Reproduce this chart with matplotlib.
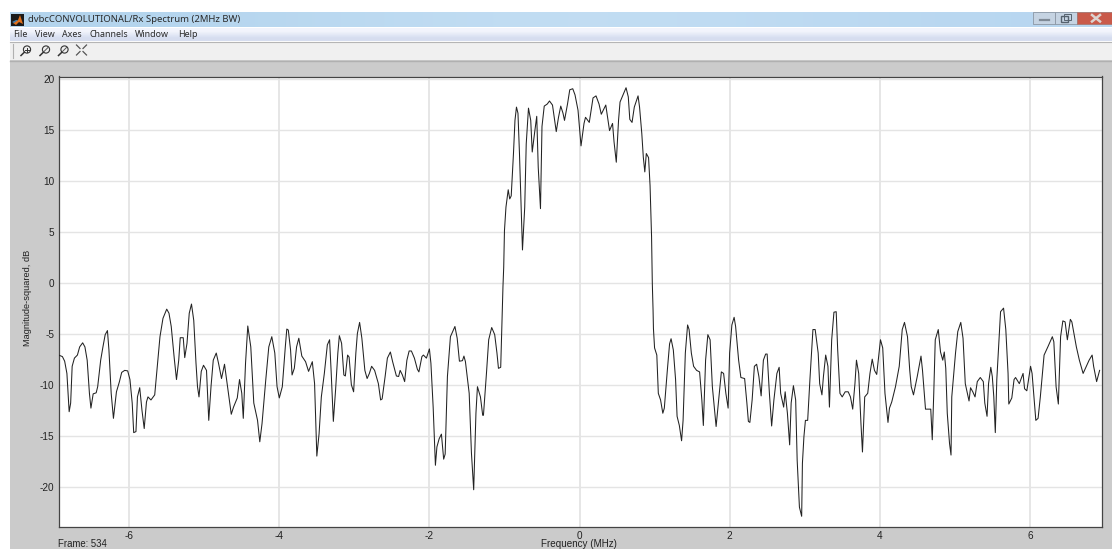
import numpy as np
import matplotlib
matplotlib.use("Agg")
import matplotlib.pyplot as plt
from matplotlib.patches import Rectangle, Circle, Polygon

plt.rcParams['font.family'] = ['Liberation Sans', 'DejaVu Sans']

title_text = "dvbcCONVOLUTIONAL/Rx Spectrum (2MHz BW)"
menu_items = ["File", "View", "Axes", "Channels", "Window", "Help"]
x_label = "Frequency (MHz)"
y_label = "Magnitude-squared, dB"
frame_text = "Frame: 534"
x_ticks = [-6, -4, -2, 0, 2, 4, 6]
y_ticks = [20, 15, 10, 5, 0, -5, -10, -15, -20]

freq_left = [-6.94,-6.89,-6.86,-6.83,-6.80,-6.78,-6.76,-6.73,-6.69,-6.66,-6.62,-6.59,-6.56,-6.53,-6.51,-6.48,-6.44,-6.42,-6.38,-6.35,-6.32,-6.29,-6.27,-6.24,-6.21,-6.17,-6.13,-6.10,-6.06,-6.02,-5.99,-5.96,-5.94,-5.91,-5.89,-5.86,-5.83,-5.80,-5.77,-5.75,-5.71,-5.66,-5.63,-5.59,-5.55,-5.50,-5.47,-5.44,-5.40,-5.37,-5.34,-5.32,-5.28,-5.26,-5.23,-5.20,-5.17,-5.14,-5.11,-5.09,-5.07,-5.04,-5.01,-4.97,-4.94,-4.91,-4.88,-4.84,-4.81,-4.77,-4.73,-4.69,-4.64,-4.61,-4.56,-4.53,-4.50,-4.48,-4.45,-4.42,-4.38,-4.34,-4.29,-4.26,-4.23,-4.18,-4.14,-4.10,-4.06,-4.03,-4.00]
db_left = [-7.1,-7.25,-7.7,-8.9,-12.65,-11.8,-8.2,-7.4,-7.1,-6.3,-5.9,-6.3,-7.6,-10.85,-12.3,-10.9,-10.8,-10.2,-7.6,-6.3,-5.1,-4.7,-6.6,-10.85,-13.3,-10.7,-9.7,-8.8,-8.6,-8.65,-9.5,-11.8,-14.7,-14.6,-11.2,-10.3,-12.5,-14.3,-11.7,-11.2,-11.5,-11.0,-8.6,-5.3,-3.5,-2.6,-3.0,-4.3,-7.4,-9.5,-7.6,-5.4,-5.4,-7.35,-5.95,-3.0,-2.1,-3.7,-7.9,-10.2,-11.2,-8.7,-8.1,-8.6,-13.5,-10.2,-7.6,-6.9,-7.9,-9.4,-8.0,-10.2,-12.9,-12.2,-11.3,-9.5,-10.85,-13.3,-7.9,-4.25,-6.3,-11.8,-13.5,-15.6,-13.8,-9.5,-6.3,-5.3,-6.9,-10.2,-11.3]

freq_midleft = [-3.96,-3.92,-3.90,-3.88,-3.85,-3.83,-3.80,-3.77,-3.74,-3.70,-3.65,-3.61,-3.56,-3.53,-3.50,-3.47,-3.44,-3.40,-3.36,-3.33,-3.31,-3.28,-3.25,-3.22,-3.20,-3.17,-3.14,-3.12,-3.09,-3.07,-3.04,-3.01,-2.98,-2.96,-2.93,-2.90,-2.86,-2.83,-2.80,-2.77,-2.73,-2.68,-2.65,-2.63,-2.59,-2.56,-2.52,-2.49,-2.44,-2.41,-2.39,-2.36,-2.33,-2.30,-2.27,-2.24,-2.20,-2.16,-2.14,-2.10,-2.08,-2.04,-2.00,-1.98,-1.95,-1.92,-1.90,-1.87,-1.84,-1.81,-1.79,-1.76,-1.72,-1.68,-1.66,-1.63,-1.60,-1.56,-1.54,-1.52,-1.47,-1.44,-1.41,-1.38,-1.36,-1.32,-1.29,-1.28,-1.24,-1.21,-1.17,-1.13,-1.10,-1.08,-1.05,-1.03]
db_midleft = [-10.2,-6.3,-4.55,-4.65,-6.6,-9.05,-8.4,-6.3,-5.45,-7.2,-7.75,-8.7,-7.75,-9.9,-17.0,-14.8,-11.2,-8.9,-6.1,-5.6,-8.6,-13.6,-10.5,-6.9,-5.2,-5.95,-9.05,-9.15,-7.1,-7.3,-10.0,-10.7,-6.9,-5.0,-3.9,-5.45,-8.6,-9.4,-8.9,-8.2,-8.6,-9.9,-11.5,-11.4,-9.2,-7.4,-6.8,-7.75,-9.15,-9.2,-8.6,-9.05,-9.7,-7.6,-6.7,-6.7,-7.4,-8.5,-8.75,-7.25,-7.1,-7.4,-6.5,-7.9,-12.2,-17.9,-16.1,-15.3,-14.85,-17.3,-16.8,-9.2,-5.3,-4.65,-4.3,-5.45,-7.7,-7.65,-7.2,-7.75,-10.85,-16.7,-20.3,-12.8,-10.2,-11.2,-13.0,-13.0,-8.9,-5.6,-4.4,-5.1,-6.9,-8.4,-8.3,-3.0]

freq_band = [-1.02,-1.01,-1.00,-0.98,-0.95,-0.93,-0.91,-0.88,-0.86,-0.84,-0.82,-0.80,-0.77,-0.76,-0.73,-0.71,-0.68,-0.65,-0.63,-0.60,-0.57,-0.55,-0.52,-0.50,-0.47,-0.43,-0.40,-0.36,-0.31,-0.28,-0.25,-0.22,-0.20,-0.16,-0.13,-0.09,-0.06,-0.02,0.02,0.06,0.08,0.13,0.18,0.22,0.26,0.29,0.35,0.38,0.40,0.44,0.46,0.49,0.52,0.54,0.58,0.62,0.65,0.67,0.70,0.73,0.78,0.80,0.83,0.85,0.87,0.89,0.92,0.94,0.96,0.97,0.98,0.985]
db_band = [-0.4,1.5,5.1,7.4,9.1,8.2,8.5,12.65,15.9,17.2,16.6,12.65,5.5,3.2,7.4,13.6,17.1,15.9,12.8,14.6,16.3,11.3,7.25,15.3,17.3,17.5,17.8,17.4,14.8,16.2,17.3,16.6,15.9,17.5,18.9,19.0,18.4,16.9,13.4,15.6,16.2,15.7,18.1,18.3,17.5,16.5,17.4,15.9,14.9,15.6,13.8,11.8,15.9,17.7,18.4,19.1,18.2,16.0,15.7,17.2,18.3,17.2,14.6,12.3,10.85,12.65,12.25,9.5,4.5,-0.1,-2.7,-4.5]

freq_midright = [1.00,1.03,1.05,1.08,1.11,1.13,1.17,1.20,1.22,1.25,1.28,1.30,1.33,1.36,1.38,1.41,1.44,1.46,1.49,1.52,1.56,1.60,1.63,1.65,1.68,1.71,1.74,1.77,1.82,1.85,1.89,1.92,1.95,1.98,2.00,2.03,2.06,2.08,2.12,2.15,2.20,2.23,2.25,2.27,2.30,2.33,2.36,2.39,2.42,2.45,2.48,2.50,2.53,2.56,2.59,2.63,2.66,2.68,2.72,2.74,2.77,2.80,2.82,2.85,2.88,2.90,2.93,2.96,2.97,2.99,3.01,3.04,3.07,3.11,3.14,3.18,3.20,3.23,3.25,3.28,3.31,3.33,3.36,3.39,3.42,3.44,3.47,3.50,3.54,3.58,3.61,3.64,3.67,3.69,3.72,3.75,3.77,3.80,3.84,3.87,3.90,3.93,3.96,3.99,4.01,4.04,4.07,4.11,4.13]
db_midright = [-6.4,-7.1,-10.85,-11.5,-12.8,-12.3,-8.6,-6.0,-5.5,-6.6,-9.5,-13.1,-14.0,-15.5,-13.5,-6.9,-4.15,-4.6,-6.9,-8.2,-8.6,-8.75,-11.5,-14.0,-7.6,-5.1,-5.6,-10.2,-14.1,-11.8,-8.75,-8.9,-10.85,-12.3,-6.9,-4.15,-3.4,-4.3,-7.6,-9.3,-9.4,-11.8,-13.6,-13.7,-11.5,-8.2,-8.0,-9.2,-11.1,-7.6,-7.0,-7.0,-10.85,-14.05,-11.5,-8.9,-8.3,-10.85,-12.2,-10.7,-12.8,-15.9,-11.8,-10.1,-11.5,-17.4,-22.0,-22.9,-17.7,-15.1,-13.5,-13.5,-9.5,-4.6,-4.6,-6.9,-9.9,-11.0,-9.2,-7.1,-8.2,-12.2,-5.6,-2.9,-2.85,-6.6,-10.85,-11.2,-10.7,-10.7,-11.2,-12.4,-9.9,-7.6,-8.9,-13.8,-16.6,-11.2,-10.85,-8.9,-7.5,-8.6,-9.0,-6.9,-5.6,-6.4,-10.85,-13.7,-12.3]

freq_right = [4.16,4.21,4.26,4.30,4.33,4.37,4.40,4.42,4.45,4.50,4.55,4.57,4.61,4.68,4.70,4.72,4.74,4.78,4.81,4.84,4.86,4.88,4.90,4.93,4.95,4.96,5.01,5.04,5.08,5.11,5.14,5.19,5.21,5.24,5.27,5.30,5.34,5.38,5.40,5.43,5.45,5.48,5.50,5.52,5.54,5.56,5.61,5.65,5.68,5.71,5.72,5.76,5.79,5.81,5.86,5.91,5.93,5.96,6.01,6.03,6.08,6.11,6.14,6.19,6.24,6.30,6.32,6.35,6.38,6.41,6.44,6.47,6.50,6.54,6.56,6.62,6.66,6.71,6.79,6.83,6.85,6.89,6.93]
db_right = [-11.7,-10.2,-8.2,-4.6,-3.9,-5.3,-8.6,-10.2,-11.0,-9.2,-7.2,-8.6,-12.4,-12.4,-15.4,-10.85,-5.6,-4.6,-6.8,-7.6,-6.8,-8.4,-12.8,-15.75,-16.9,-11.2,-6.9,-4.8,-3.9,-5.45,-9.9,-11.6,-10.3,-10.7,-11.2,-9.7,-9.3,-9.7,-11.8,-13.1,-9.9,-8.3,-9.2,-11.2,-14.7,-9.5,-2.85,-2.5,-4.6,-8.9,-11.9,-11.3,-9.5,-9.3,-9.9,-8.9,-10.4,-10.6,-8.2,-8.9,-13.5,-13.3,-11.2,-7.1,-6.3,-5.3,-5.8,-10.2,-11.9,-5.3,-3.75,-3.85,-5.6,-3.6,-3.85,-6.3,-7.6,-8.9,-7.6,-7.1,-8.2,-9.7,-8.6]

freq = freq_left + freq_midleft + freq_band + freq_midright + freq_right
magnitude = db_left + db_midleft + db_band + db_midright + db_right

W, H = 1112, 549
fig = plt.figure(figsize=(W / 100, H / 100), dpi=100, facecolor='white')

# window chrome, in pixel coordinates
chrome = fig.add_axes([0, 0, 1, 1], zorder=0)
chrome.axis('off')
chrome.add_patch(Rectangle((10, 60), W - 10, H - 60, fc='#cbcbcb', ec='none'))
grad = np.array([[0.70, 0.83, 0.93], [0.78, 0.88, 0.96], [0.72, 0.84, 0.94]])[None, :, :]
chrome.imshow(grad, extent=(10, W, 27, 12), aspect='auto', interpolation='bicubic', zorder=1)
menu_grad = np.array([[0.95, 0.96, 0.99], [0.84, 0.87, 0.94]])[:, None, :]
chrome.imshow(menu_grad, extent=(10, W, 41, 28), aspect='auto', interpolation='bilinear', zorder=1)
chrome.set_xlim(0, W)
chrome.set_ylim(H, 0)
chrome.add_patch(Rectangle((10, 42), W - 10, 18, fc='#f0f0f0', ec='none', zorder=1))
chrome.plot([10, W], [41.5, 41.5], color='#b5b5b5', lw=0.8, zorder=2)
chrome.plot([10, W], [60.5, 60.5], color='#b0b0b0', lw=1.0, zorder=2)
chrome.plot([12.5, 12.5], [44, 58], color='#b0b0b0', lw=0.8, zorder=2)

# application icon
chrome.add_patch(Rectangle((11, 14), 13, 12, fc='#1a1a1a', ec='none', zorder=2))
chrome.add_patch(Polygon([(13, 23), (18, 20), (20, 15), (23, 24), (19, 22), (16, 25)],
                         fc='#e0701c', ec='none', zorder=3))
chrome.add_patch(Polygon([(12, 22), (16, 20), (18, 20), (14, 23)], fc='#3f7fb0', ec='none', zorder=3))

chrome.text(27.5, 20, title_text, fontsize=6.85, color='#2a2a2a', va='center', ha='left', zorder=4,
            family=['Noto Sans', 'DejaVu Sans'])
menu_x = [13, 35, 62, 89, 135, 178]
for mx, item in zip(menu_x, menu_items):
    chrome.text(mx, 34.5, item, fontsize=6.4, color='#2a2a2a', va='center', ha='left', zorder=4,
                family=['Noto Sans', 'DejaVu Sans'])

# toolbar icons
for cx, sym in zip([27, 46, 64.5], ['+', 'o', 'v']):
    chrome.add_patch(Circle((cx, 49.5), 3.6, fc='none', ec='#333333', lw=0.8, zorder=3))
    chrome.plot([cx - 2.6, cx - 6], [52.2, 55.5], color='#333333', lw=1.1, zorder=3)
    if sym == '+':
        chrome.plot([cx - 2, cx + 2], [49.5, 49.5], color='#333333', lw=0.7, zorder=3)
        chrome.plot([cx, cx], [47.5, 51.5], color='#333333', lw=0.7, zorder=3)
    else:
        chrome.plot([cx - 2, cx + 2], [51.5, 47.5], color='#555555', lw=0.7, zorder=3)
for sx, sy in [(-1, -1), (1, -1), (-1, 1), (1, 1)]:
    chrome.plot([81.5 + sx * 1.5, 81.5 + sx * 5], [50 + sy * 1.5, 50 + sy * 5], color='#555555', lw=0.9, zorder=3)

# window buttons
chrome.add_patch(Rectangle((1033, 12), 22, 12, fc='#c5d3e2', ec='#8b96a3', lw=0.6, zorder=2))
chrome.add_patch(Rectangle((1055, 12), 22, 12, fc='#c5d3e2', ec='#8b96a3', lw=0.6, zorder=2))
chrome.add_patch(Rectangle((1077, 12), 35, 12, fc='#c95a4a', ec='#a77770', lw=0.6, zorder=2))
chrome.plot([1040, 1049], [19.5, 19.5], color='#7f8a96', lw=1.6, zorder=3)
chrome.add_patch(Rectangle((1061, 16), 7, 6, fc='none', ec='#56626e', lw=1.0, zorder=3))
chrome.add_patch(Rectangle((1063.5, 14), 7, 6, fc='none', ec='#56626e', lw=0.7, zorder=3))
chrome.plot([1092, 1100], [15, 21.5], color='#dcd3d0', lw=1.8, zorder=3)
chrome.plot([1100, 1092], [15, 21.5], color='#dcd3d0', lw=1.8, zorder=3)

chrome.text(58.5, 544, frame_text, fontsize=6.9, color='#222222', va='center', ha='left', zorder=4)
chrome.text(579, 544, x_label, fontsize=7.1, color='#222222', va='center', ha='center', zorder=4)
chrome.text(28, 298, y_label, fontsize=6.7, color='#222222', va='center', ha='center',
            rotation=90, zorder=4)

# plot
left, right, top, bottom = 58.5, 1101.5, 76.5, 527.0
ax = fig.add_axes([left / W, 1 - bottom / H, (right - left) / W, (bottom - top) / H],
                  facecolor='white', zorder=2)
ax.plot(freq, magnitude, color='#222222', lw=0.75, solid_joinstyle='round', zorder=3)
ax.set_xlim(-6.942, 6.955)
ax.set_ylim(-23.95, 20.2)
ax.set_xticks(x_ticks)
ax.set_yticks(y_ticks)
ax.set_xticklabels([str(t) for t in x_ticks])
ax.set_yticklabels([str(t) for t in y_ticks])
ax.xaxis.grid(True, color='#e6e6e6', lw=1.4, zorder=1)
ax.yaxis.grid(True, color='#e4e4e4', lw=1.0, zorder=1)
ax.set_axisbelow(True)
ax.tick_params(axis='both', length=0, labelsize=7.2, labelcolor='#222222')
ax.tick_params(axis='x', pad=3)
ax.tick_params(axis='y', pad=3)
for side in ax.spines.values():
    side.set_color('#444444')
    side.set_linewidth(0.9)

fig.savefig('out.png', dpi=100, facecolor='white')
